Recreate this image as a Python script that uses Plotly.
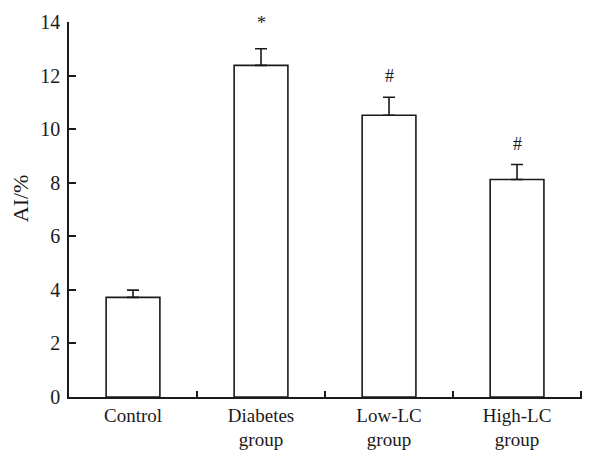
import plotly.graph_objects as go

categories = ["Control", "Diabetes group", "Low-LC group", "High-LC group"]
tick_labels = ["Control", "Diabetes<br>group", "Low-LC<br>group", "High-LC<br>group"]
ai_values = [3.72, 12.38, 10.52, 8.12]
ai_errors = [0.27, 0.62, 0.67, 0.56]
marks = ["", "*", "#", "#"]
y_ticks = [0, 2, 4, 6, 8, 10, 12, 14]
y_title = "AI/%"

FONT = "Liberation Serif, Times New Roman, serif"
INK = "#1a1a1a"

fig = go.Figure()
fig.add_trace(go.Bar(
    x=categories,
    y=ai_values,
    width=0.42,
    marker=dict(color="white", line=dict(color=INK, width=1.6)),
    error_y=dict(type="data", symmetric=False, array=ai_errors,
                 arrayminus=[0] * len(ai_errors),
                 color=INK, thickness=1.6, width=6),
    showlegend=False,
))

mark_shift = {"*": 26, "#": 21}
for c, v, e, m in zip(categories, ai_values, ai_errors, marks):
    if m:
        fig.add_annotation(x=c, y=v + e, text=m, showarrow=False,
                           yanchor="middle", yshift=mark_shift[m],
                           font=dict(family=FONT, size=18, color=INK))

# y-axis title (placed slightly above the plot's vertical centre, as in the reference)
fig.add_annotation(xref="paper", x=0, xshift=-49, xanchor="center",
                   yref="paper", y=0.53, yanchor="middle",
                   text=y_title, textangle=-90, showarrow=False,
                   font=dict(family=FONT, size=22, color=INK))

# page body has an 8px default margin, so the figure is sized to fit the 590x450 window
fig.update_layout(
    width=582, height=442,
    margin=dict(l=61, r=0, t=14, b=53),
    paper_bgcolor="white", plot_bgcolor="white",
    font=dict(family=FONT, size=20, color=INK),
    xaxis=dict(
        type="category", automargin=False,
        range=[-0.5, 3.57],
        tickmode="array", tickvals=categories, ticktext=tick_labels,
        tickson="boundaries", ticks="inside", ticklen=6, tickwidth=1.5,
        tickcolor=INK, showline=True, linecolor=INK, linewidth=1.6,
        showgrid=False, zeroline=False, ticklabelstandoff=0,
        tickfont=dict(family=FONT, size=19, color=INK),
    ),
    yaxis=dict(
        automargin=False,
        range=[0, 14], tickmode="array", tickvals=y_ticks,
        ticks="inside", ticklen=7, tickwidth=1.5, tickcolor=INK,
        showline=True, linecolor=INK, linewidth=1.6,
        showgrid=False, zeroline=False, ticklabelstandoff=3,
        tickfont=dict(family=FONT, size=20, color=INK),
    ),
)

fig.write_html("out.html")
